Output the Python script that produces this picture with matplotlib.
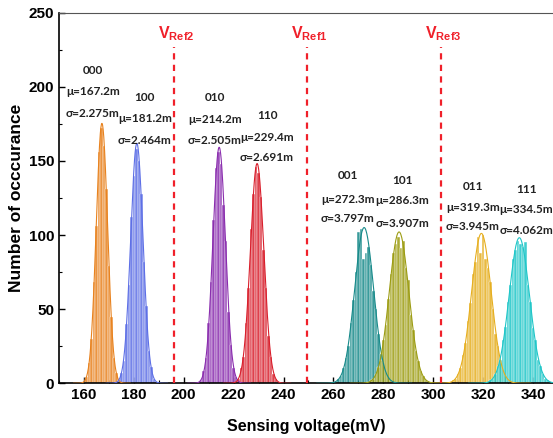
import numpy as np
import matplotlib
matplotlib.use('Agg')
from matplotlib import pyplot as plt

plt.rcParams['font.family'] = ['Liberation Sans', 'DejaVu Sans']
plt.rcParams['mathtext.fontset'] = 'custom'
plt.rcParams['mathtext.rm'] = 'Liberation Sans'
plt.rcParams['mathtext.bf'] = 'Liberation Sans:bold'

# states, fit parameters (mV) and histogram counts (1 mV bins)
codes = ['000', '100', '010', '110', '001', '101', '011', '111']
mu = [167.2, 181.2, 214.2, 229.4, 272.3, 286.3, 319.3, 334.5]
sigma = [2.275, 2.464, 2.505, 2.691, 3.797, 3.907, 3.945, 4.062]
colors = ['#E8821E', '#5D6FE6', '#8A2DAE', '#D91F2C',
          '#178A8A', '#9C9C12', '#E6AE1E', '#1EC6C8']
first_bin = [160, 174, 207, 221, 260, 274, 307, 322]
counts = [
    [1, 4, 14, 30, 68, 106, 156, 172, 160, 131, 79, 45, 17, 7, 2],
    [2, 7, 15, 40, 66, 112, 140, 158, 150, 128, 82, 52, 22, 11, 3, 1],
    [2, 8, 17, 41, 68, 110, 145, 156, 148, 120, 96, 48, 26, 10, 4, 1],
    [1, 3, 10, 18, 41, 64, 104, 128, 146, 142, 126, 90, 64, 32, 18, 6, 3, 1],
    [1, 1, 3, 5, 10, 17, 25, 41, 56, 75, 102, 104, 84, 88, 92, 80, 62, 50,
     33, 20, 14, 7, 4, 2, 1],
    [1, 2, 3, 6, 11, 16, 29, 39, 57, 74, 88, 94, 99, 91, 96, 78, 70, 46,
     36, 22, 15, 8, 5, 2, 1],
    [1, 2, 3, 6, 10, 19, 27, 42, 54, 74, 82, 99, 88, 100, 84, 78, 68, 50,
     33, 25, 14, 9, 5, 2, 1],
    [1, 2, 3, 6, 12, 16, 29, 38, 55, 66, 84, 90, 96, 94, 92, 95, 66, 55,
     37, 29, 16, 12, 6, 3, 2, 1],
]
n_samples = 1000

# annotation anchors: x, y of code line, y of mu line, y of sigma line
label_x = [163.5, 184.4, 212.5, 233.4, 265.8, 287.6, 315.8, 337.2]
label_y = [
    (211, 197, 182), (193, 178.5, 164), (192.5, 178, 164), (180.5, 166, 152.5),
    (140, 124, 111), (137, 123, 108), (133, 118.7, 105.6), (131, 117, 103),
]

vref_names = ['Ref2', 'Ref1', 'Ref3']
vref_x = [196.1, 249.4, 303.1]

fig = plt.figure(figsize=(5.53, 4.38), dpi=100)
ax = fig.add_axes([59 / 553, 54.7 / 438, 494 / 553, 370.6 / 438])

for i in range(len(codes)):
    xs = np.arange(first_bin[i], first_bin[i] + len(counts[i]))
    ax.bar(xs, counts[i], width=1.0, color=colors[i], alpha=0.85,
           edgecolor='white', linewidth=0.35, zorder=2)
    xf = np.linspace(mu[i] - 5 * sigma[i], mu[i] + 5 * sigma[i], 200)
    yf = n_samples / (sigma[i] * np.sqrt(2 * np.pi)) * \
        np.exp(-(xf - mu[i]) ** 2 / (2 * sigma[i] ** 2))
    ax.plot(xf, yf, color=colors[i], lw=0.8, zorder=3)

    ya, yb, yc = label_y[i]
    kw = dict(ha='center', va='center', fontsize=8.5, color='#222222',
              family=['Lato', 'DejaVu Sans'], fontweight='bold', zorder=5)
    ax.text(label_x[i], ya, codes[i], **kw)
    ax.text(label_x[i], yb, 'μ=%sm' % mu[i], **kw)
    ax.text(label_x[i], yc, 'σ=%sm' % sigma[i], **kw)

for name, xv in zip(vref_names, vref_x):
    ln, = ax.plot([xv, xv], [0, 227], color='#F0202A', lw=1.6, zorder=4)
    ln.set_dashes((2.8, 2.4))
    ax.text(xv + 0.8, 236, r'$\mathbf{V}_{\mathbf{%s}}$' % name, color='#F0202A',
            ha='center', va='center', fontsize=11.5)

ax.set_xlim(150, 348)
ax.set_ylim(0, 250)
ax.set_xticks(np.arange(160, 341, 20))
ax.set_xticks(np.arange(150, 348, 10), minor=True)
ax.set_yticks(np.arange(0, 251, 50))
ax.set_yticks(np.arange(25, 250, 50), minor=True)
ax.tick_params(which='both', direction='in', top=False, right=False)
ax.tick_params(which='major', length=4, width=1, labelsize=11)
ax.tick_params(which='minor', length=2, width=0.8)
for lab in ax.get_xticklabels() + ax.get_yticklabels():
    lab.set_fontweight('bold')

ax.spines['right'].set_visible(False)
ax.spines['top'].set_color('#555555')
ax.spines['top'].set_linewidth(0.8)
ax.spines['left'].set_linewidth(1.2)
ax.spines['bottom'].set_linewidth(1.2)

ax.set_xlabel('Sensing voltage(mV)', fontsize=11.5, fontweight='bold', labelpad=12)
ax.set_ylabel('Number of occcurance', fontsize=12.5, fontweight='bold', labelpad=3)

fig.savefig('out.png', dpi=100)
